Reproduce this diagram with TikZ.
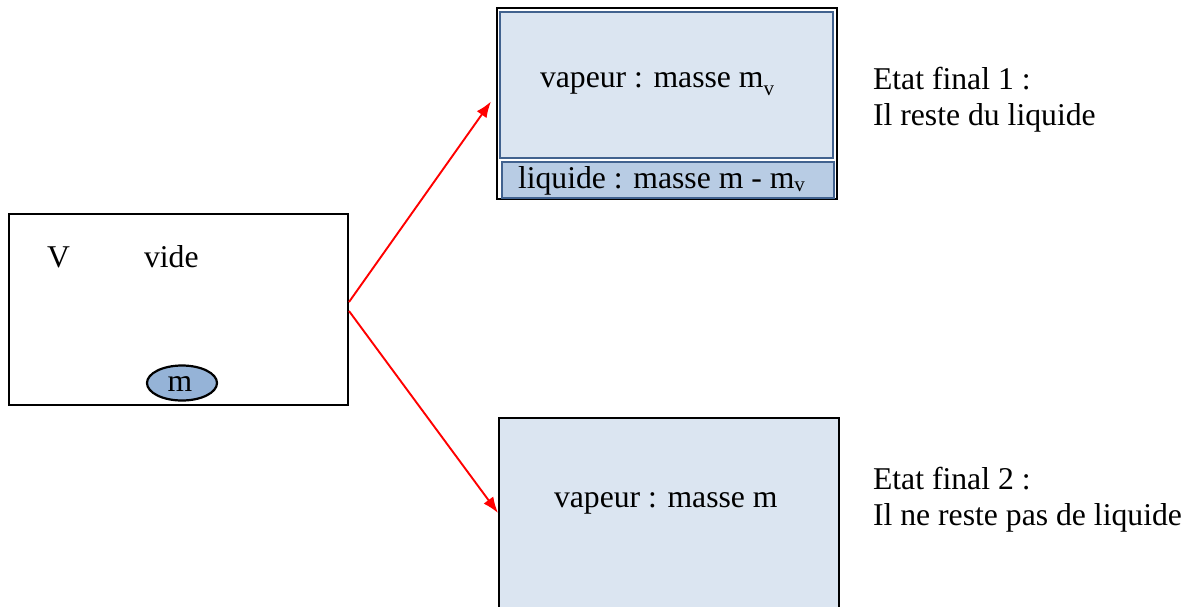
\documentclass[tikz,border=0pt]{standalone}
\usepackage{fontspec}
\setmainfont{Liberation Serif}
\usetikzlibrary{shapes.geometric,arrows.meta}
\definecolor{vapfill}{HTML}{DBE5F1}
\definecolor{liqfill}{HTML}{B8CCE4}
\definecolor{dropfill}{HTML}{95B3D7}
\definecolor{blueline}{HTML}{41628F}
\definecolor{arrred}{HTML}{FF0000}
\newcommand{\bigtxt}{\fontsize{31.7}{36}\selectfont}
\newcommand{\subv}[1]{\raisebox{#1}{\fontsize{21}{21}\selectfont v}}
\begin{document}
\begin{tikzpicture}[x=1pt,y=-1pt,
  every node/.style={inner sep=0pt,outer sep=0pt},
  blackbox/.style={draw=black,line width=2.6pt,rectangle},
  bluebox/.style={draw=blueline,line width=2pt,rectangle},
  txt/.style={anchor=base west,font=\bigtxt},
  arr/.style={draw=arrred,line width=1.9pt,-{Latex[length=16pt,width=12pt]}}]
\useasboundingbox (0,0) rectangle (1192,606);
\clip (0,0) rectangle (1192,606);
% initial state
\node[blackbox,fill=white,minimum width=339pt,minimum height=191pt] (init) at (178.5,309.5) {};
\node[txt] (V) at (47,267) {V};
\node[txt] (vide) at (144,267) {vide};
\node[ellipse,draw=black,line width=2.2pt,fill=dropfill,minimum width=70pt,minimum height=35pt] (drop) at (182,383) {};
\node[font=\bigtxt,anchor=base] (mlab) at (180,391) {m};
% final state 1
\node[blackbox,fill=white,minimum width=340pt,minimum height=191pt] (tout) at (667,103.5) {};
\node[bluebox,fill=vapfill,minimum width=333pt,minimum height=146pt] (vap1) at (666.5,85) {};
\node[bluebox,fill=liqfill,minimum width=332pt,minimum height=36pt] (liq) at (668,180) {};
\node[txt] (vap1t) at (540,87) {vapeur : masse m\subv{-8pt}};
\node[txt] (liqt) at (518,188) {liquide : masse m - m\subv{-3pt}};
\node[txt] (ef1a) at (873,89) {Etat final 1 :};
\node[txt] (ef1b) at (873,125) {Il reste du liquide};
% final state 2
\node[blackbox,fill=vapfill,minimum width=340pt,minimum height=222pt] (bot) at (669,529) {};
\node[txt] (vap2t) at (554,507) {vapeur : masse m};
\node[txt] (ef2a) at (873,489) {Etat final 2 :};
\node[txt] (ef2b) at (873,525) {Il ne reste pas de liquide};
% arrows
\draw[arr] ([xshift=1pt,yshift=7.5pt]init.east) -- ([xshift=-6pt,yshift=2pt]tout.west);
\draw[arr] ([xshift=1pt,yshift=-1.5pt]init.east) -- ([xshift=-1pt,yshift=16pt]bot.west);
\end{tikzpicture}
\end{document}
